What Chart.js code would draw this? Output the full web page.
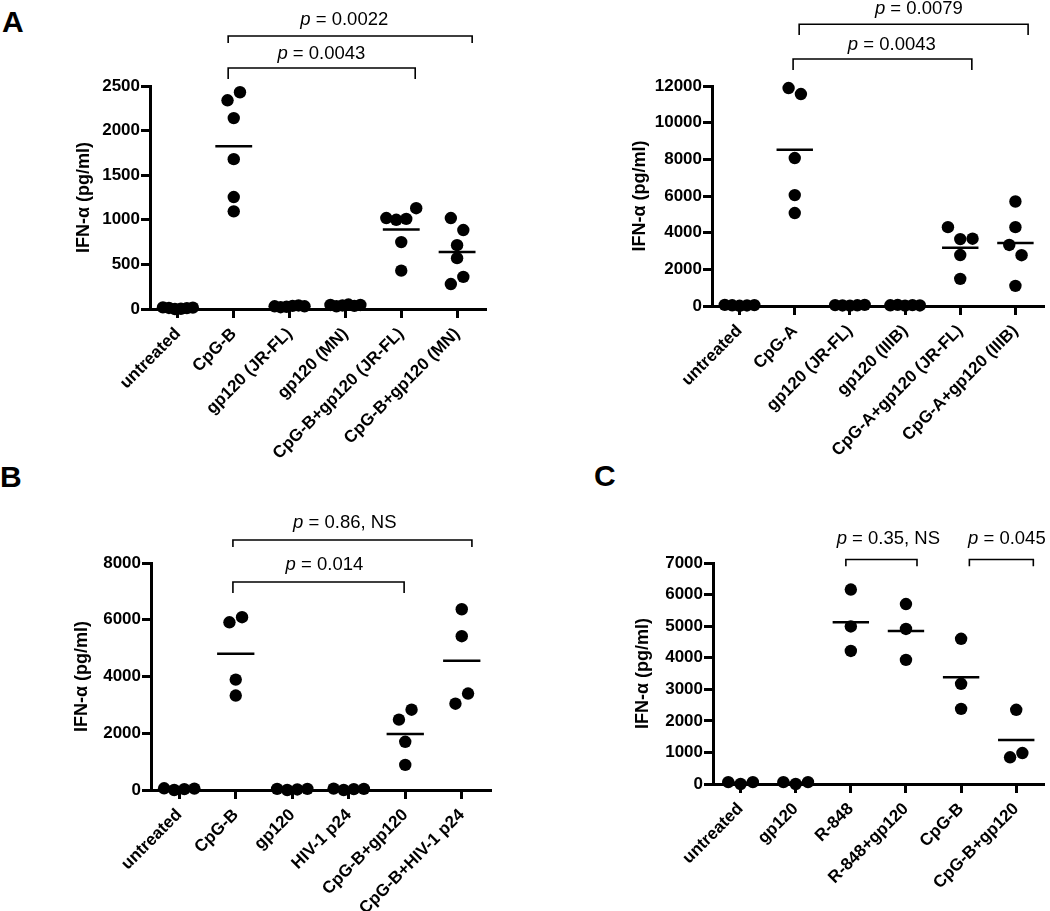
<!DOCTYPE html>
<html>
<head>
<meta charset="utf-8">
<script src="https://cdn.jsdelivr.net/npm/chart.js@4.4.1/dist/chart.umd.min.js"></script>
<style>
  body { margin: 0; background: #fff; width: 1050px; height: 911px; position: relative; overflow: hidden;
         font-family: "Liberation Sans", Arial, Helvetica, sans-serif; }
  canvas { position: absolute; }
  .letter { position: absolute; font-weight: bold; font-size: 30px; line-height: 1; color: #000; }
</style>
</head>
<body>
<div class="letter" style="left:2px;top:7px">A</div>
<div class="letter" style="left:0px;top:462px">B</div>
<div class="letter" style="left:594px;top:461px">C</div>
<canvas id="chartA" width="525" height="475" style="left:0;top:0"></canvas>
<canvas id="chartA2" width="525" height="475" style="left:525px;top:0"></canvas>
<canvas id="chartB" width="525" height="456" style="left:0;top:455px"></canvas>
<canvas id="chartC" width="525" height="456" style="left:525px;top:455px"></canvas>
<script>
// ---- data (IFN-alpha, pg/ml), one list per group ----
const catsA = ["untreated", "CpG-B", "gp120 (JR-FL)", "gp120 (MN)", "CpG-B+gp120 (JR-FL)", "CpG-B+gp120 (MN)"];
const valsA = [
  [18, 12, 0, 2, 10, 15],
  [2340, 2430, 2140, 1680, 1255, 1095],
  [30, 20, 25, 35, 40, 30],
  [45, 30, 40, 50, 35, 45],
  [1020, 1000, 1010, 1130, 750, 430],
  [1020, 885, 715, 570, 280, 360]
];
const ticksA = [0, 500, 1000, 1500, 2000, 2500];
const testsA = [
  { from: 0.90, to: 4.25, top: 2702, foot: 2578, text: 2803, at: 2.57, p: "0.0043" },
  { from: 0.90, to: 5.27, top: 3061, foot: 2982, text: 3184, at: 2.98, p: "0.0022" }
];

const catsA2 = ["untreated", "CpG-A", "gp120 (JR-FL)", "gp120 (IIIB)", "CpG-A+gp120 (JR-FL)", "CpG-A+gp120 (IIIB)"];
const valsA2 = [
  [60, 40, 10, 30, 50],
  [11890, 11560, 8070, 6050, 5070],
  [50, 30, 20, 40, 60],
  [40, 60, 20, 50, 30],
  [4300, 3650, 3670, 2780, 1480],
  [5700, 4300, 3330, 2770, 1100]
];
const ticksA2 = [0, 2000, 4000, 6000, 8000, 10000, 12000];
const testsA2 = [
  { from: 0.97, to: 4.21, top: 13470, foot: 12870, text: 13960, at: 2.76, p: "0.0043" },
  { from: 1.08, to: 5.23, top: 15370, foot: 14780, text: 15930, at: 3.25, p: "0.0079" }
];

const catsB = ["untreated", "CpG-B", "gp120", "HIV-1 p24", "CpG-B+gp120", "CpG-B+HIV-1 p24"];
const valsB = [
  [60, 0, 30, 50],
  [5910, 6090, 3890, 3330],
  [40, 0, 20, 40],
  [50, 0, 30, 40],
  [2480, 2830, 1700, 885],
  [6370, 5420, 3040, 3400]
];
const ticksB = [0, 2000, 4000, 6000, 8000];
const testsB = [
  { from: 0.95, to: 3.98, top: 7330, foot: 6940, text: 7750, at: 2.57, p: "0.014" },
  { from: 0.95, to: 5.18, top: 8810, foot: 8560, text: 9230, at: 2.93, p: "0.86, NS" }
];

const catsC = ["untreated", "gp120", "R-848", "R-848+gp120", "CpG-B", "CpG-B+gp120"];
const valsC = [
  [60, 0, 60],
  [60, 0, 60],
  [6160, 4990, 4215],
  [5700, 4910, 3930],
  [4600, 3175, 2380],
  [2350, 845, 980]
];
const ticksC = [0, 1000, 2000, 3000, 4000, 5000, 6000, 7000];
const testsC = [
  { from: 1.91, to: 3.20, top: 7110, foot: 6900, text: 7590, at: 2.68, p: "0.35, NS" },
  { from: 4.15, to: 5.31, top: 7110, foot: 6900, text: 7590, at: 4.83, p: "0.045" }
];

// ---- drawing ----
const FONT = '"Liberation Sans", Arial, Helvetica, sans-serif';
const DOT = 12.5, PLOT_H = 222, CAT_PX = 56;

// GraphPad-like column scatter: dots closer than a dot diameter share a row
function spread(values, yMax) {
  const thr = DOT / PLOT_H * yMax;
  const order = values.map((v, i) => i).sort((a, b) => values[b] - values[a] || a - b);
  const rows = [];
  order.forEach(i => {
    const row = rows[rows.length - 1];
    if (row && values[row.top] - values[i] < thr) row.items.push(i);
    else rows.push({ top: i, items: [i] });
  });
  const off = values.map(() => 0);
  rows.forEach(r => {
    r.items.sort((a, b) => a - b);
    const n = r.items.length;
    const step = n > 1 ? Math.min(DOT, 30 / (n - 1)) : 0;
    r.items.forEach((idx, k) => { off[idx] = (k - (n - 1) / 2) * step / CAT_PX; });
  });
  return off;
}

function mean(a) { return a.reduce((s, v) => s + v, 0) / a.length; }

function bracketPlugin(items) {
  return {
    id: "brackets",
    afterDraw(chart) {
      const { ctx, scales: { x, y } } = chart;
      ctx.save();
      ctx.strokeStyle = "#000";
      ctx.fillStyle = "#000";
      ctx.lineWidth = 1.6;
      items.forEach(b => {
        const x1 = x.getPixelForValue(b.from), x2 = x.getPixelForValue(b.to);
        const yt = y.getPixelForValue(b.top), yf = y.getPixelForValue(b.foot);
        ctx.beginPath();
        ctx.moveTo(x1, yf); ctx.lineTo(x1, yt); ctx.lineTo(x2, yt); ctx.lineTo(x2, yf);
        ctx.stroke();

        const rest = " = " + b.p;
        ctx.font = "italic 18.5px " + FONT;
        const wp = ctx.measureText("p").width;
        ctx.font = "18.5px " + FONT;
        const wr = ctx.measureText(rest).width;
        const sx = x.getPixelForValue(b.at) - (wp + wr) / 2;
        const ty = y.getPixelForValue(b.text);
        ctx.textAlign = "left";
        ctx.textBaseline = "alphabetic";
        ctx.font = "italic 18.5px " + FONT;
        ctx.fillText("p", sx, ty);
        ctx.font = "18.5px " + FONT;
        ctx.fillText(rest, sx + wp, ty);
      });
      ctx.restore();
    }
  };
}

function makePanel(id, cats, vals, yTicks, tests, box) {
  const yMax = yTicks[yTicks.length - 1];
  const dots = [];
  const means = [];
  vals.forEach((group, i) => {
    const off = spread(group, yMax);
    group.forEach((v, k) => dots.push({ x: i + off[k], y: v }));
    const m = mean(group);
    means.push({ x: i - 0.33, y: m }, { x: i + 0.33, y: m }, { x: i, y: null });
  });
  const canvas = document.getElementById(id);
  const W = canvas.width, H = canvas.height;

  new Chart(canvas, {
    type: "scatter",
    data: {
      datasets: [
        {
          type: "line",
          data: means,
          borderColor: "#000",
          borderWidth: 2.5,
          pointRadius: 0,
          spanGaps: false,
          clip: false
        },
        {
          data: dots,
          backgroundColor: "#000",
          borderWidth: 0,
          pointRadius: 6.2,
          pointHoverRadius: 6.2,
          clip: false
        }
      ]
    },
    options: {
      responsive: false,
      animation: false,
      devicePixelRatio: 1,
      layout: { padding: { left: 0, top: box.t, right: W - box.r, bottom: 0 } },
      plugins: { legend: { display: false }, tooltip: { enabled: false } },
      scales: {
        x: {
          type: "linear",
          min: -0.5,
          max: cats.length - 0.5,
          afterBuildTicks: s => { s.ticks = cats.map((c, i) => ({ value: i })); },
          afterFit: s => { s.height = H - box.b; },
          ticks: {
            autoSkip: false,
            minRotation: 45,
            maxRotation: 45,
            padding: 6,
            color: "#000",
            font: { family: FONT, size: 17, weight: "bold" },
            callback: v => cats[v]
          },
          grid: { drawOnChartArea: false, drawTicks: true, tickLength: 9, color: "#000", lineWidth: 3 },
          border: { display: true, color: "#000", width: 3 }
        },
        y: {
          min: 0,
          max: yMax,
          afterBuildTicks: s => { s.ticks = yTicks.map(v => ({ value: v })); },
          afterFit: s => { s.width = box.l; },
          ticks: {
            padding: 1,
            color: "#000",
            font: { family: FONT, size: 17, weight: "bold" },
            callback: v => String(v)
          },
          grid: { drawOnChartArea: false, drawTicks: true, tickLength: 9, color: "#000", lineWidth: 3 },
          border: { display: true, color: "#000", width: 3 },
          title: {
            display: true,
            text: "IFN-α (pg/ml)",
            color: "#000",
            font: { family: FONT, size: 18, weight: "bold" },
            padding: { top: box.titleX - 10.8, bottom: 0 }
          }
        }
      }
    },
    plugins: [bracketPlugin(tests)]
  });
}

makePanel("chartA", catsA, valsA, ticksA, testsA, { l: 150, r: 485, t: 86, b: 309, titleX: 84 });
makePanel("chartA2", catsA2, valsA2, ticksA2, testsA2, { l: 187, r: 518, t: 86, b: 306, titleX: 115 });
makePanel("chartB", catsB, valsB, ticksB, testsB, { l: 151, r: 490, t: 108, b: 335, titleX: 82 });
makePanel("chartC", catsC, valsC, ticksC, testsC, { l: 188, r: 522, t: 108, b: 329, titleX: 118 });
</script>
</body>
</html>
